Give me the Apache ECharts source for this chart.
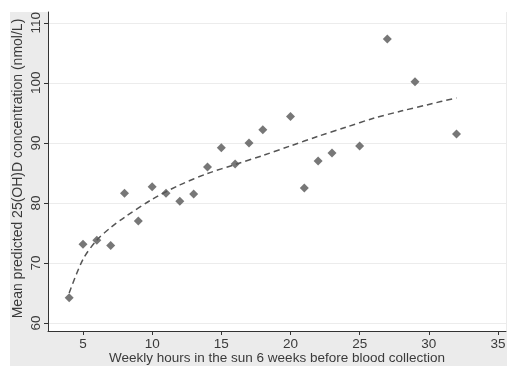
<!DOCTYPE html>
<html>
<head>
<meta charset="utf-8">
<script src="https://cdn.jsdelivr.net/npm/echarts@6/dist/echarts.min.js"></script>
<style>
  html, body { margin: 0; padding: 0; background: #fff; }
  #frame { position: absolute; left: 10px; top: 12px; width: 497px; height: 354px; background: #ebebeb; }
  #chart { position: absolute; left: 0; top: 0; width: 518px; height: 376px; }
</style>
</head>
<body>
<div id="frame"></div>
<div id="chart"></div>
<script>
// observed points: hours in the sun vs mean predicted 25(OH)D
const hours = [4, 5, 6, 7, 8, 9, 10, 11, 12, 13, 14, 15, 16, 17, 18, 20, 21, 22, 23, 25, 27, 29, 32];
const vitD = [64.2, 73.1, 73.8, 72.9, 81.6, 77.0, 82.7, 81.6, 80.3, 81.5, 86.0, 89.2, 86.5, 90.0, 92.2, 94.4, 82.5, 87.0, 88.3, 89.5, 107.3, 100.2, 91.5];

// fitted curve
const fitX = [4, 5, 6, 7, 8, 10, 12, 14, 16, 18, 20, 22, 24, 26, 28, 30, 32];
const fitY = [65.0, 70.6, 73.8, 75.9, 77.6, 80.6, 83.0, 84.9, 86.4, 87.9, 89.5, 91.1, 92.6, 94.1, 95.3, 96.4, 97.5];

const xTicks = [5, 10, 15, 20, 25, 30, 35];
const yTicks = [60, 70, 80, 90, 100, 110];

const chart = echarts.init(document.getElementById('chart'));
const labelFont = { color: '#3a3a3a', fontSize: 13.5, fontFamily: 'Liberation Sans, Arial, sans-serif' };

chart.setOption({
  animation: false,
  grid: {
    left: 48, top: 12, right: 12, bottom: 45,
    outerBoundsMode: 'none', containLabel: false,
    show: true, backgroundColor: '#fff', borderWidth: 0
  },
  xAxis: {
    type: 'value', min: 2.47, max: 35.58,
    name: 'Weekly hours in the sun 6 weeks before blood collection',
    nameLocation: 'middle', nameGap: 20, nameMoveOverlap: false,
    nameTextStyle: labelFont,
    axisLine: { onZero: false, lineStyle: { color: '#333', width: 1 } },
    axisTick: { show: true, length: 4, customValues: xTicks, lineStyle: { color: '#333' } },
    axisLabel: Object.assign({ customValues: xTicks, margin: 6 }, labelFont),
    splitLine: { show: false }
  },
  yAxis: {
    type: 'value', min: 58.67, max: 111.8,
    name: 'Mean predicted 25(OH)D concentration (nmol/L)',
    nameLocation: 'middle', nameGap: 23, nameRotate: 90, nameMoveOverlap: false,
    nameTextStyle: Object.assign({ padding: [0, 0, 0, 6] }, labelFont, { fontSize: 14 }),
    axisLine: { show: true, onZero: false, lineStyle: { color: '#333', width: 1 } },
    axisTick: { show: true, length: 4, customValues: yTicks, lineStyle: { color: '#333' } },
    axisLabel: Object.assign({ customValues: yTicks, rotate: 90, margin: 5 }, labelFont),
    splitLine: { show: true, lineStyle: { color: '#ececec', width: 1 } }
  },
  series: [
    {
      type: 'line',
      data: fitX.map((x, i) => [x, fitY[i]]),
      smooth: 0.3, showSymbol: false,
      lineStyle: { color: '#555', width: 1.5, type: [6, 4] },
      z: 2
    },
    {
      type: 'scatter',
      data: hours.map((x, i) => [x, vitD[i]]),
      symbol: 'diamond', symbolSize: 9,
      itemStyle: { color: '#555' },
      z: 3
    }
  ]
});
</script>
</body>
</html>
